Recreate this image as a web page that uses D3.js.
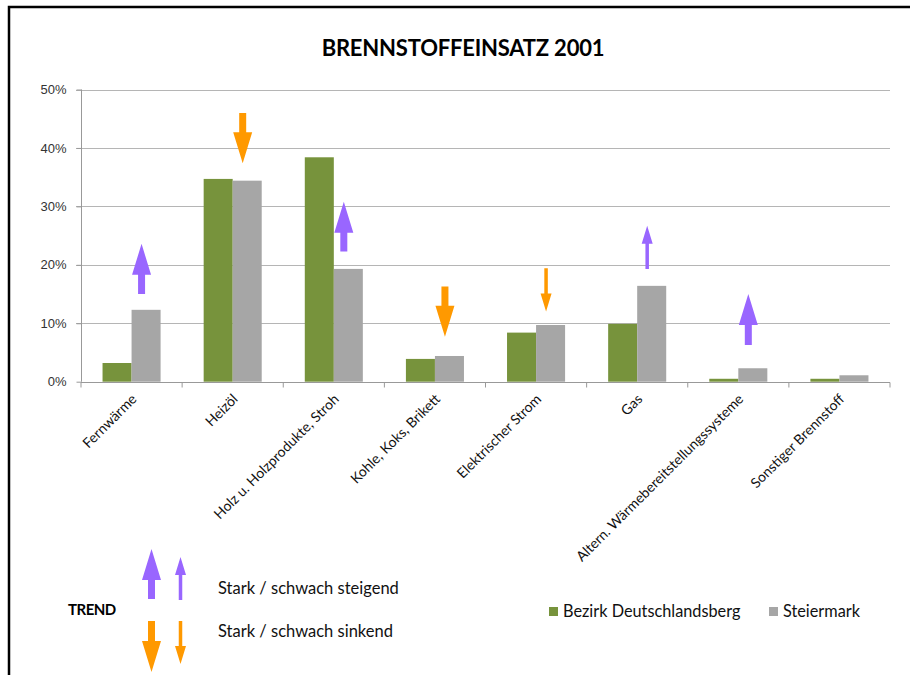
<!DOCTYPE html>
<html>
<head>
<meta charset="utf-8">
<script src="https://cdn.jsdelivr.net/npm/d3@7"></script>
<style>
  html, body { margin: 0; padding: 0; background: #fff; }
  svg { display: block; font-family: Lato, "Open Sans", sans-serif; }
  .grid line { stroke: #b5b5b5; stroke-width: 1; }
  .axis path, .axis line { stroke: #999; }
  .axis text { fill: #333; font-size: 13px; }
</style>
</head>
<body>
<svg id="chart" width="910" height="675"></svg>
<script>
// --- data -----------------------------------------------------------------
var categories = [
  'Fernwärme', 'Heizöl', 'Holz u. Holzprodukte, Stroh', 'Kohle, Koks, Brikett',
  'Elektrischer Strom', 'Gas', 'Altern. Wärmebereitstellungssysteme', 'Sonstiger Brennstoff'
];
var seriesNames = ['Bezirk Deutschlandsberg', 'Steiermark'];
var bezirk     = [3.2, 34.7, 38.4, 3.9, 8.4, 9.9, 0.5, 0.5];
var steiermark = [12.3, 34.4, 19.3, 4.4, 9.7, 16.4, 2.3, 1.1];
var yTicks = [0, 10, 20, 30, 40, 50];

// trend arrows: direction, strength, start and end (in % of the y scale)
var trendDir      = ['up', 'down', 'up', 'down', 'down', 'up', 'up', null];
var trendStrong   = [true, true, true, true, false, false, true, null];
var trendFrom     = [15.0, 46.0, 22.3, 16.3, 19.4, 19.3, 6.3, null];
var trendTo       = [23.6, 37.4, 30.8, 7.7, 12.0, 26.7, 15.0, null];

var colors = { 'Bezirk Deutschlandsberg': '#77933c', 'Steiermark': '#a6a6a6' };
var upColor = '#9966ff', downColor = '#ff9900';

// --- layout ---------------------------------------------------------------
var svg = d3.select('#chart');

// frame
svg.append('path')
  .attr('d', 'M9,675 V7 H910')
  .attr('fill', 'none').attr('stroke', '#000').attr('stroke-width', 2.5);

svg.append('text')
  .attr('x', 463).attr('y', 56)
  .attr('text-anchor', 'middle')
  .attr('font-size', 22).attr('font-weight', 'bold')
  .attr('letter-spacing', -0.2)
  .text('BRENNSTOFFEINSATZ 2001');

var x = d3.scaleBand().domain(categories).range([81, 890]);
var bw = x.bandwidth();
var x1 = d3.scaleBand().domain(seriesNames).range([bw * 0.213, bw * 0.787]);
var y = d3.scaleLinear().domain([0, 50]).range([381.7, 89.5]);

// gridlines
svg.append('g').attr('class', 'grid')
  .selectAll('line').data(yTicks.slice(1)).enter().append('line')
  .attr('x1', 76).attr('x2', 890)
  .attr('y1', function (d) { return Math.round(y(d)) + 0.5; })
  .attr('y2', function (d) { return Math.round(y(d)) + 0.5; });

// y axis
var yAxis = svg.append('g').attr('class', 'axis')
  .attr('transform', 'translate(81.5,0)')
  .call(d3.axisLeft(y).tickValues(yTicks).tickSize(5).tickPadding(10)
    .tickFormat(function (d) { return d + '%'; }));
yAxis.select('.domain').attr('d', 'M0,' + y(50) + 'V' + y(0));

// bars
var rows = categories.map(function (c, i) {
  return { cat: c, values: [
    { s: seriesNames[0], v: bezirk[i] },
    { s: seriesNames[1], v: steiermark[i] }
  ] };
});

svg.append('g').selectAll('g').data(rows).enter().append('g')
  .attr('transform', function (d) { return 'translate(' + x(d.cat) + ',0)'; })
  .selectAll('rect').data(function (d) { return d.values; }).enter().append('rect')
  .attr('x', function (d) { return x1(d.s); })
  .attr('width', x1.bandwidth())
  .attr('y', function (d) { return y(d.v); })
  .attr('height', function (d) { return y(0) - y(d.v); })
  .attr('fill', function (d) { return colors[d.s]; });

// x axis
var xAxis = svg.append('g').attr('class', 'axis')
  .attr('transform', 'translate(0,' + (Math.round(y(0)) + 0.5) + ')');
xAxis.append('line').attr('x1', 81).attr('x2', 890).attr('stroke', '#999');
xAxis.selectAll('.tk').data(d3.range(categories.length + 1)).enter().append('line')
  .attr('x1', function (i) { return 81 + i * bw; })
  .attr('x2', function (i) { return 81 + i * bw; })
  .attr('y1', 0).attr('y2', 5).attr('stroke', '#999');

svg.append('g').selectAll('text').data(categories).enter().append('text')
  .attr('transform', function (d) {
    return 'translate(' + (x(d) + bw / 2 + 6) + ',' + 400 + ') rotate(-45)';
  })
  .attr('text-anchor', 'end')
  .attr('font-size', 14).attr('fill', '#111')
  .text(function (d) { return d; });

// arrow shape helper (vertical arrow from y0 to y1 at cx)
function arrowPath(cx, y0, y1, strong) {
  var dir = y1 > y0 ? 1 : -1;
  var headLen = strong ? 31 : 18;
  var headW = strong ? 19 : 11;
  var shaftW = strong ? 7 : 3.5;
  var yb = y1 - dir * headLen;
  return 'M' + (cx - shaftW / 2) + ',' + y0 +
    'L' + (cx - shaftW / 2) + ',' + yb +
    'L' + (cx - headW / 2) + ',' + yb +
    'L' + cx + ',' + y1 +
    'L' + (cx + headW / 2) + ',' + yb +
    'L' + (cx + shaftW / 2) + ',' + yb +
    'L' + (cx + shaftW / 2) + ',' + y0 + 'Z';
}

svg.append('g').selectAll('path')
  .data(categories.map(function (c, i) { return i; }).filter(function (i) { return trendDir[i]; }))
  .enter().append('path')
  .attr('d', function (i) {
    return arrowPath(x(categories[i]) + bw / 2 + 10, y(trendFrom[i]), y(trendTo[i]), trendStrong[i]);
  })
  .attr('fill', function (i) { return trendDir[i] === 'up' ? upColor : downColor; });

// trend legend
var tl = svg.append('g');
tl.append('text').attr('x', 68).attr('y', 615).attr('font-size', 15).attr('font-weight', 'bold')
  .attr('letter-spacing', -0.5).text('TREND');
tl.append('path').attr('d', arrowPath(151.5, 599, 549, true)).attr('fill', upColor);
tl.append('path').attr('d', arrowPath(180.5, 600, 557, false)).attr('fill', upColor);
tl.append('path').attr('d', arrowPath(151.5, 621, 672, true)).attr('fill', downColor);
tl.append('path').attr('d', arrowPath(180.5, 621, 664, false)).attr('fill', downColor);
tl.append('text').attr('x', 218).attr('y', 594).attr('font-size', 16.5).attr('fill', '#111')
  .text('Stark / schwach steigend');
tl.append('text').attr('x', 218).attr('y', 637).attr('font-size', 16.5).attr('fill', '#111')
  .text('Stark / schwach sinkend');

// series legend
var legX = [549, 769];
var lg = svg.append('g').selectAll('g').data(seriesNames).enter().append('g')
  .attr('transform', function (d, i) { return 'translate(' + legX[i] + ',607)'; });
lg.append('rect').attr('width', 9).attr('height', 9).attr('fill', function (d) { return colors[d]; });
lg.append('text').attr('x', 14).attr('y', 10).attr('font-size', 16.3).attr('fill', '#111')
  .text(function (d) { return d; });
</script>
</body>
</html>
